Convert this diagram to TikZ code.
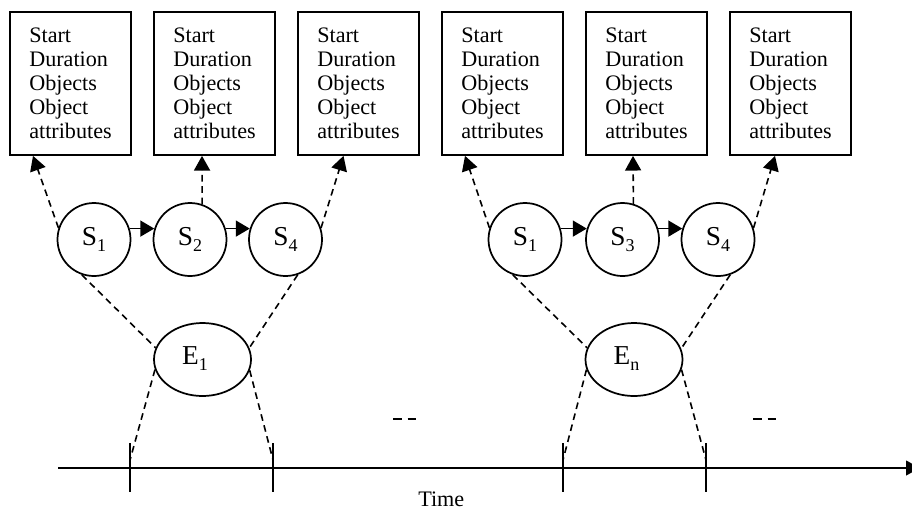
\documentclass[tikz,border=0pt]{standalone}
\usepackage{fontspec}
\setmainfont{Liberation Serif}
\usetikzlibrary{arrows.meta,shapes.geometric,calc}
% lowered, smaller index for state and event names
\newcommand\lowidx[1]{\raisebox{-0.24em}{\fontsize{13.5}{13.5}\selectfont #1}}

\begin{document}
\begin{tikzpicture}[x=0.75pt,y=-0.75pt,
  attrbox/.style={draw,line width=1.3pt,minimum width=90.75pt,minimum height=107.25pt,
    align=left,inner sep=0pt,font=\fontsize{16.6}{18.1}\selectfont},
  statenode/.style={draw,circle,line width=1.3pt,minimum size=54.75pt,inner sep=0pt,
    font=\fontsize{20.5}{20.5}\selectfont},
  eventnode/.style={draw,ellipse,line width=1.3pt,minimum width=72.75pt,
    minimum height=54.75pt,inner sep=0pt},
  evlabel/.style={inner sep=0pt,font=\fontsize{20.5}{20.5}\selectfont},
  link/.style={line width=1.3pt,-{Triangle[length=10.5pt,width=12pt]}},
  dlink/.style={line width=1.2pt,dash pattern=on 5pt off 3.5pt,
    -{Triangle[length=11pt,width=12pt]}},
  dline/.style={line width=1.2pt,dash pattern=on 5pt off 3.5pt},
  tickmark/.style={line width=1.4pt},
  gapmark/.style={line width=1.4pt}]

\useasboundingbox (0,0) rectangle (912,511);

\def\attrs{Start\\Duration\\Objects\\Object\\attributes}

% attribute boxes
\node[attrbox] (b1) at (70.5,83.5) {\attrs};
\node[attrbox] (b2) at (214.5,83.5) {\attrs};
\node[attrbox] (b3) at (358.5,83.5) {\attrs};
\node[attrbox] (b4) at (502.5,83.5) {\attrs};
\node[attrbox] (b5) at (646.5,83.5) {\attrs};
\node[attrbox] (b6) at (790.5,83.5) {\attrs};

% states of the first event
\node[statenode] (sa1) at (94,239.5) {S\lowidx{1}};
\node[statenode] (sa2) at (190,239.5) {S\lowidx{2}};
\node[statenode] (sa4) at (285.5,239.5) {S\lowidx{4}};
% states of the n-th event
\node[statenode] (sb1) at (525,239.5) {S\lowidx{1}};
\node[statenode] (sb3) at (622.5,239.5) {S\lowidx{3}};
\node[statenode] (sb4) at (718,239.5) {S\lowidx{4}};

% events
\node[eventnode] (e1) at (202.5,359.5) {};
\node[evlabel] (e1txt) at ($(e1)+(-7.5,-1)$) {E\lowidx{1}};
\node[eventnode] (en) at (634,359.5) {};
\node[evlabel] (entxt) at ($(en)+(-7.5,-1)$) {E\lowidx{n}};

% state sequences
\draw[link] (sa1.17) -- (sa2.163);
\draw[link] (sa2.17) -- (sa4.163);
\draw[link] (sb1.17) -- (sb3.163);
\draw[link] (sb3.17) -- (sb4.163);

% states to their attributes
\draw[dlink] (sa1.162) -- ($(b1.south)+(-37.5,0)$);
\draw[dlink] (sa2.71) -- ($(b2.south)+(-12.5,0)$);
\draw[dlink] (sa4.18) -- ($(b3.south)+(-15,0)$);
\draw[dlink] (sb1.162) -- ($(b4.south)+(-37.5,0)$);
\draw[dlink] (sb3.73) -- ($(b5.south)+(-13.5,0)$);
\draw[dlink] (sb4.18) -- ($(b6.south)+(-15.5,0)$);

% events to their states
\draw[dline] (sa1.251) -- (e1.166);
\draw[dline] (sa4.289) -- (e1.14);
\draw[dline] (sb1.251) -- (en.166);
\draw[dline] (sb4.289) -- (en.13);

% time axis
\coordinate (ax0) at (58,468);
\coordinate (ax1) at (920,468);
\draw[line width=1.6pt,-{Triangle[length=10.5pt,width=11pt]}] (ax0) -- (ax1);
\node[anchor=base west,inner sep=0pt,font=\fontsize{16.6}{18}\selectfont] (timelbl) at (418,506.5) {Time};

\coordinate (t1) at (130,468);
\coordinate (t2) at (273,468);
\coordinate (t3) at (563,468);
\coordinate (t4) at (706,468);
\foreach \t in {t1,t2,t3,t4}
  \draw[tickmark] ($(\t)+(0,-25)$) -- ($(\t)+(0,24)$);

% event intervals on the axis
\draw[dline] (e1.192) -- ($(t1)+(0,-8)$);
\draw[dline] (e1.347) -- ($(t2)+(0,-8)$);
\draw[dline] (en.192) -- ($(t3)+(0,-8)$);
\draw[dline] (en.348) -- ($(t4)+(0,-8)$);

% continuation marks
\draw[gapmark] (393,419) -- (401.5,419) (407.5,419) -- (416,419);
\draw[gapmark] (753,419) -- (761.5,419) (767.5,419) -- (776,419);
\end{tikzpicture}
\end{document}
